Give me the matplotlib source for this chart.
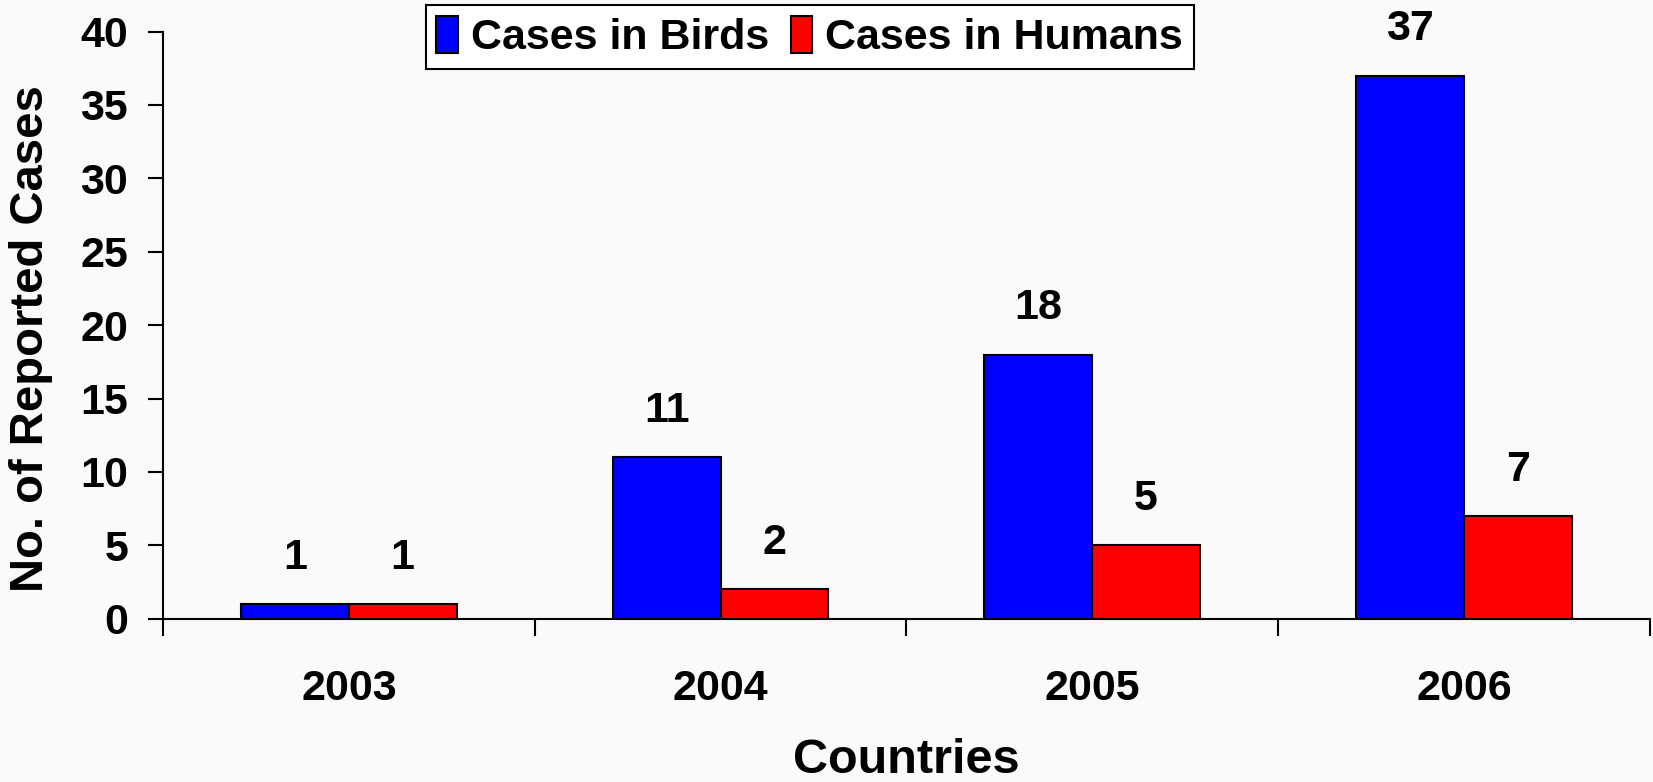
import numpy as np
import matplotlib
matplotlib.use('Agg')
import matplotlib.pyplot as plt

# Reported cases per year
years = ['2003', '2004', '2005', '2006']
birds = [1, 11, 18, 37]
humans = [1, 2, 5, 7]

plt.rcParams['font.family'] = ['Liberation Sans', 'DejaVu Sans']
plt.rcParams['font.weight'] = 'bold'

bg = '#fafafa'
fig = plt.figure(figsize=(16.53, 7.82), dpi=100, facecolor=bg)
ax = fig.add_axes([0.0986, 0.2088, 0.8994, 0.7508], facecolor=bg)

x = np.arange(len(years))
w = 0.29
b1 = ax.bar(x - w / 2, birds, w, color='#0000ff', edgecolor='black', linewidth=1.5, label='Cases in Birds')
b2 = ax.bar(x + w / 2, humans, w, color='#ff0000', edgecolor='black', linewidth=1.5, label='Cases in Humans')

for bars in (b1, b2):
    for r in bars:
        ax.annotate(str(int(r.get_height())), (r.get_x() + r.get_width() / 2, r.get_height()),
                    xytext=(0, 19), textcoords='offset points', ha='center', va='bottom',
                    fontsize=31, fontweight='bold')

ax.set_xlim(-0.5, 3.5)
ax.set_ylim(0, 40)
ax.set_yticks(range(0, 41, 5))
ax.tick_params(axis='y', labelsize=31, length=11, width=1.5, direction='out', pad=14)

# category ticks at boundaries, labels centred
ax.set_xticks(np.arange(-0.5, 4, 1))
ax.set_xticklabels([])
ax.set_xticks(x, minor=True)
ax.set_xticklabels(years, minor=True)
ax.tick_params(axis='x', which='major', length=12, width=1.5, direction='out')
ax.tick_params(axis='x', which='minor', length=0, labelsize=31, pad=36)

for s in ('top', 'right'):
    ax.spines[s].set_visible(False)
ax.spines['left'].set_linewidth(1.5)
ax.spines['bottom'].set_linewidth(1.5)

ax.set_ylabel('No. of Reported Cases', fontsize=34, fontweight='bold')
ax.yaxis.set_label_coords(-0.074, 0.478)
ax.set_xlabel('Countries', fontsize=35, fontweight='bold', labelpad=21)

leg = ax.legend(loc='upper center', bbox_to_anchor=(0.435, 1.045), ncol=2, fontsize=31,
                frameon=True, fancybox=False, edgecolor='black', framealpha=1,
                handlelength=0.5, handleheight=0.95, handletextpad=0.3, columnspacing=0.5,
                borderpad=0.25, borderaxespad=0)
leg.get_frame().set_linewidth(1.5)
leg.get_frame().set_facecolor('white')

fig.savefig('out.png', dpi=100, facecolor=bg)
